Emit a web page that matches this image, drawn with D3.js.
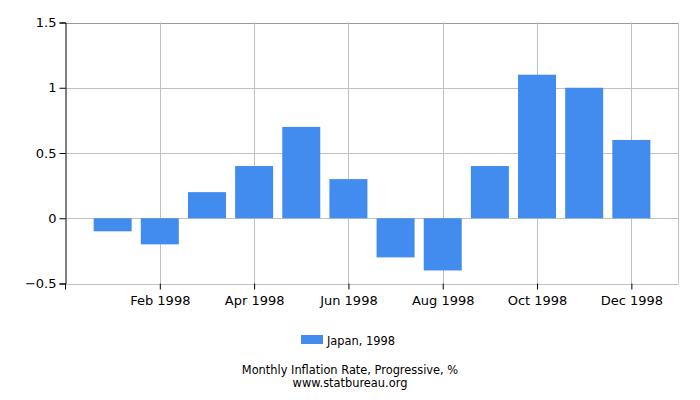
<!DOCTYPE html>
<html>
<head>
<meta charset="utf-8">
<script src="https://cdn.jsdelivr.net/npm/d3@7"></script>
<style>
  body { margin: 0; background: #fff; }
  text { font-family: "DejaVu Sans", sans-serif; }
</style>
</head>
<body>
<div id="chart"></div>
<script>
// data
var months = ['Jan 1998', 'Feb 1998', 'Mar 1998', 'Apr 1998', 'May 1998', 'Jun 1998',
  'Jul 1998', 'Aug 1998', 'Sep 1998', 'Oct 1998', 'Nov 1998', 'Dec 1998'];
var values = [-0.1, -0.2, 0.2, 0.4, 0.7, 0.3, -0.3, -0.4, 0.4, 1.1, 1.0, 0.6];
var yTicks = [-0.5, 0, 0.5, 1, 1.5];
var seriesName = 'Japan, 1998';

var Chart = function () {
  var self = this;
  var svg = d3.select('#chart').append('svg')
    .attr('width', 700)
    .attr('height', 400);

  var left = 65.5, right = 678.5, top = 22.5, bottom = 283.5;

  var x = d3.scaleLinear().domain([-1, 12]).range([left, right]);
  var y = d3.scaleLinear().domain([-0.5, 1.5]).range([bottom, top]);
  var barW = 38;

  self.draw = function () {
    // horizontal grid
    svg.selectAll('line.hgrid').data(yTicks)
      .enter().append('line')
      .attr('class', 'hgrid')
      .attr('x1', left).attr('x2', right)
      .attr('y1', function (d) { return Math.round(y(d)) + 0.5; })
      .attr('y2', function (d) { return Math.round(y(d)) + 0.5; })
      .attr('stroke', function (d) { return d === 1.5 ? '#999' : '#c0c0c0'; });

    // vertical grid on even months
    var evenIdx = d3.range(1, 12, 2);
    svg.selectAll('line.vgrid').data(evenIdx)
      .enter().append('line')
      .attr('class', 'vgrid')
      .attr('x1', function (d) { return Math.round(x(d)) + 0.5; })
      .attr('x2', function (d) { return Math.round(x(d)) + 0.5; })
      .attr('y1', top).attr('y2', bottom)
      .attr('stroke', '#c0c0c0');

    // right border
    svg.append('line')
      .attr('x1', right).attr('x2', right)
      .attr('y1', top).attr('y2', bottom)
      .attr('stroke', '#c0c0c0');

    // bars
    svg.selectAll('rect.bar').data(values)
      .enter().append('rect')
      .attr('class', 'bar')
      .attr('x', function (d, i) { return x(i) - barW / 2; })
      .attr('width', barW)
      .attr('y', function (d) { return Math.min(y(d), y(0)); })
      .attr('height', function (d) { return Math.abs(y(d) - y(0)); })
      .attr('fill', '#428bef');

    // left axis
    var yAxis = svg.append('g')
      .attr('transform', 'translate(' + left + ',0)')
      .call(d3.axisLeft(y).tickValues(yTicks).tickSize(6).tickPadding(3)
        .tickFormat(function (d) { return d3.format('')(d); }));
    yAxis.select('.domain').attr('stroke', '#000');
    yAxis.selectAll('.tick line').attr('stroke', '#000');
    yAxis.selectAll('text').attr('font-size', 13).attr('fill', '#000')
      .attr('font-family', '"DejaVu Sans", sans-serif');

    // bottom axis
    var xAxis = svg.append('g')
      .attr('transform', 'translate(0,' + bottom + ')')
      .call(d3.axisBottom(x).tickValues(evenIdx).tickSize(6).tickPadding(6)
        .tickFormat(function (d) { return months[d]; }));
    xAxis.select('.domain').remove();
    xAxis.selectAll('.tick line').attr('stroke', '#000');
    xAxis.selectAll('text').attr('font-size', 13).attr('fill', '#000')
      .attr('font-family', '"DejaVu Sans", sans-serif');
    // left tick at plot start
    svg.append('line')
      .attr('x1', left).attr('x2', left)
      .attr('y1', bottom).attr('y2', bottom + 6)
      .attr('stroke', '#000');

    // legend
    svg.append('rect')
      .attr('x', 301).attr('y', 335)
      .attr('width', 22).attr('height', 9)
      .attr('fill', '#428bef');
    svg.append('text')
      .attr('x', 327).attr('y', 345)
      .attr('font-size', 11.4)
      .attr('fill', '#000')
      .text(seriesName);

    // titles
    svg.append('text')
      .attr('x', 350).attr('y', 374)
      .attr('text-anchor', 'middle')
      .attr('font-size', 11.4)
      .attr('fill', '#000')
      .text('Monthly Inflation Rate, Progressive, %');
    svg.append('text')
      .attr('x', 350).attr('y', 387)
      .attr('text-anchor', 'middle')
      .attr('font-size', 11.4)
      .attr('fill', '#000')
      .text('www.statbureau.org');
  };
};

var chart = new Chart();
chart.draw();
</script>
</body>
</html>
